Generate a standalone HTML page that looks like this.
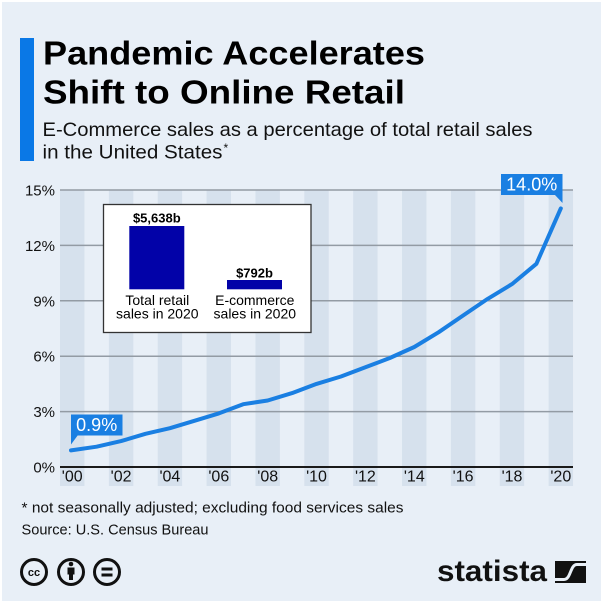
<!DOCTYPE html>
<html>
<head>
<meta charset="utf-8">
<style>
html,body{margin:0;padding:0;background:#fff;}
svg{display:block;}
</style>
</head>
<body>
<svg width="606" height="606" viewBox="0 0 606 606" xmlns="http://www.w3.org/2000/svg" font-family="'Liberation Sans', sans-serif">
  <rect x="0" y="0" width="606" height="606" fill="#ffffff"/>
  <rect x="2" y="2" width="599" height="599" fill="#e8eff7"/>

  <!-- Title -->
  <rect x="20" y="38" width="14" height="123" fill="#0a78e6"/>
  <text x="43" y="64.3" font-size="33" font-weight="bold" fill="#000" textLength="382" lengthAdjust="spacingAndGlyphs">Pandemic Accelerates</text>
  <text x="43" y="103.3" font-size="33" font-weight="bold" fill="#000" textLength="362" lengthAdjust="spacingAndGlyphs">Shift to Online Retail</text>
  <text x="42.5" y="136" font-size="19.5" fill="#111" textLength="490" lengthAdjust="spacingAndGlyphs">E-Commerce sales as a percentage of total retail sales</text>
  <text x="42.5" y="158.5" font-size="19.5" fill="#111" textLength="180" lengthAdjust="spacingAndGlyphs">in the United States</text>
  <text x="223.5" y="152" font-size="12" fill="#111">*</text>

  <!-- Stripes -->
  <g fill="#d6e1ed">
    <rect x="60" y="190" width="24.43" height="296"/>
    <rect x="108.86" y="190" width="24.43" height="296"/>
    <rect x="157.72" y="190" width="24.43" height="296"/>
    <rect x="206.58" y="190" width="24.43" height="296"/>
    <rect x="255.44" y="190" width="24.43" height="296"/>
    <rect x="304.3" y="190" width="24.43" height="296"/>
    <rect x="353.16" y="190" width="24.43" height="296"/>
    <rect x="402.02" y="190" width="24.43" height="296"/>
    <rect x="450.88" y="190" width="24.43" height="296"/>
    <rect x="499.74" y="190" width="24.43" height="296"/>
    <rect x="548.6" y="190" width="24.43" height="296"/>
  </g>

  <!-- Gridlines -->
  <g stroke="#939ba4" stroke-width="1.5">
    <line x1="60" y1="190" x2="573" y2="190"/>
    <line x1="60" y1="245.4" x2="573" y2="245.4"/>
    <line x1="60" y1="300.8" x2="573" y2="300.8"/>
    <line x1="60" y1="356.2" x2="573" y2="356.2"/>
    <line x1="60" y1="411.6" x2="573" y2="411.6"/>
  </g>
  <line x1="60" y1="467" x2="573" y2="467" stroke="#1a1a1a" stroke-width="2"/>

  <!-- Y labels -->
  <g font-size="15" fill="#111" text-anchor="end">
    <text x="55" y="195.5">15%</text>
    <text x="55" y="250.9">12%</text>
    <text x="55" y="306.3">9%</text>
    <text x="55" y="361.7">6%</text>
    <text x="55" y="417.1">3%</text>
    <text x="55" y="472.5">0%</text>
  </g>

  <!-- X labels -->
  <g font-size="16" fill="#111" text-anchor="middle">
    <text x="72.2" y="481.5">'00</text>
    <text x="121.1" y="481.5">'02</text>
    <text x="169.9" y="481.5">'04</text>
    <text x="218.8" y="481.5">'06</text>
    <text x="267.7" y="481.5">'08</text>
    <text x="316.5" y="481.5">'10</text>
    <text x="365.4" y="481.5">'12</text>
    <text x="414.3" y="481.5">'14</text>
    <text x="463.1" y="481.5">'16</text>
    <text x="512.0" y="481.5">'18</text>
    <text x="560.8" y="481.5">'20</text>
  </g>

  <!-- Data line -->
  <polyline fill="none" stroke="#1a7fe2" stroke-width="4" stroke-linejoin="round" stroke-linecap="round"
    points="71,450.4 96.6,446.7 121.1,441.1 145.5,433.8 169.9,428.2 194.4,420.8 218.8,413.4 243.2,404.2 267.7,400.5 292.1,393.1 316.5,383.9 341.0,376.5 365.4,367.3 389.8,358.0 414.3,347.0 438.7,332.2 463.1,315.5 487.6,298.9 512.0,284.1 536.4,263.8 560.8,208.4"/>

  <!-- Inset box -->
  <rect x="103.5" y="204.5" width="207.5" height="128" fill="#ffffff" stroke="#333" stroke-width="1.3"/>
  <rect x="129.3" y="226" width="55" height="63.3" fill="#0202a8"/>
  <rect x="227" y="280" width="55" height="9.3" fill="#0202a8"/>
  <g text-anchor="middle" fill="#000">
    <text x="156.8" y="222.5" font-size="13" font-weight="bold">$5,638b</text>
    <text x="254.5" y="277.3" font-size="13" font-weight="bold">$792b</text>
    <text x="157.3" y="305" font-size="14">Total retail</text>
    <text x="157.3" y="318.5" font-size="14">sales in 2020</text>
    <text x="254.8" y="305" font-size="14">E-commerce</text>
    <text x="254.8" y="318.5" font-size="14">sales in 2020</text>
  </g>

  <!-- Value labels -->
  <rect x="71" y="414.5" width="51.5" height="21" fill="#1a7fe2"/>
  <polygon points="71,435 71,444.5 78,435" fill="#1a7fe2"/>
  <text x="96.7" y="431" font-size="18" fill="#fff" text-anchor="middle">0.9%</text>

  <rect x="501" y="174" width="61.5" height="21" fill="#1a7fe2"/>
  <polygon points="562.5,194.5 562.5,203 554.5,194.5" fill="#1a7fe2"/>
  <text x="531.7" y="190.5" font-size="18" fill="#fff" text-anchor="middle">14.0%</text>

  <!-- Footer -->
  <text x="21.5" y="512.7" font-size="15" fill="#111" textLength="382" lengthAdjust="spacingAndGlyphs">* not seasonally adjusted; excluding food services sales</text>
  <text x="21.5" y="534.3" font-size="15" fill="#111" textLength="187" lengthAdjust="spacingAndGlyphs">Source: U.S. Census Bureau</text>

  <!-- CC icons -->
  <g fill="none" stroke="#111" stroke-width="3">
    <circle cx="34" cy="572" r="12.5"/>
    <circle cx="71" cy="572" r="12.5"/>
    <circle cx="107" cy="572" r="12.5"/>
  </g>
  <text x="34" y="576" font-size="11" font-weight="bold" fill="#111" text-anchor="middle">cc</text>
  <circle cx="71" cy="564" r="2.3" fill="#111"/>
  <rect x="67.5" y="567.5" width="7" height="7" fill="#111"/>
  <rect x="69" y="574" width="4" height="6" fill="#111"/>
  <rect x="101.5" y="567.5" width="11" height="3" fill="#111"/>
  <rect x="101.5" y="573.5" width="11" height="3" fill="#111"/>

  <!-- Statista logo -->
  <text x="437" y="581" font-size="30" font-weight="bold" fill="#111" textLength="110" lengthAdjust="spacingAndGlyphs">statista</text>
  <rect x="555" y="561" width="31" height="22" fill="#111"/>
  <path d="M555,579.5 H564 C571,579.5 570,564.5 577,564.5 H586" fill="none" stroke="#e8eff7" stroke-width="3"/>
</svg>
</body>
</html>
